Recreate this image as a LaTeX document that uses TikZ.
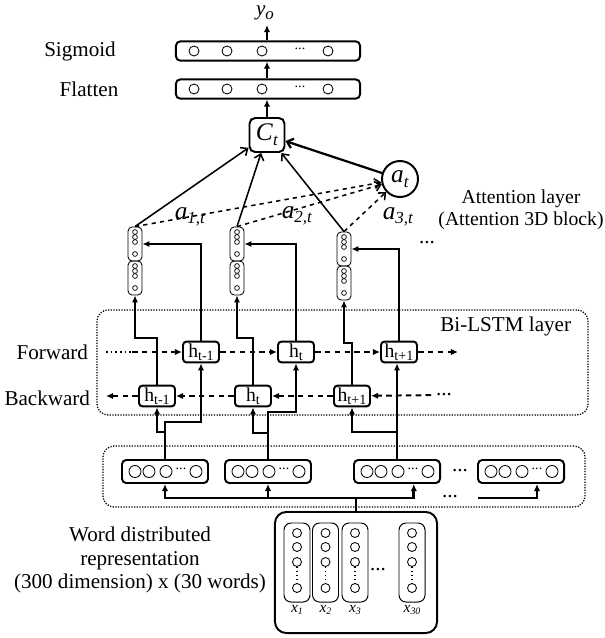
\documentclass[tikz,border=0pt]{standalone}
\usepackage{fontspec}
\setmainfont{Liberation Serif}
\usetikzlibrary{arrows.meta}
\tikzset{>=Latex}
\newcommand{\isub}[3][10]{\textit{#2}\raisebox{-0.4ex}{\fontsize{#1}{#1}\selectfont\textit{#3}}}
\newcommand{\hlab}[1]{h\raisebox{-0.3ex}{\fontsize{10}{10}\selectfont #1}}
\tikzset{outlayer/.style = {draw, rounded corners=3pt, line width=1.4pt, minimum width=4.6cm, minimum height=0.48cm, inner sep=0pt}}
\tikzset{dotbox/.style = {draw, densely dotted, line width=0.9pt, rounded corners=8pt, inner sep=0pt}}
\tikzset{hbox/.style = {draw, rounded corners=2.5pt, line width=1.4pt, minimum width=0.9cm, minimum height=0.52cm, inner sep=1pt, font=\fontsize{14}{14}\selectfont}}
\tikzset{embbox/.style = {draw, rounded corners=3pt, line width=1.4pt, minimum width=2.15cm, minimum height=0.575cm, inner sep=0pt}}
\tikzset{halfvec/.style = {draw, rounded corners=3pt, line width=0.6pt, minimum width=0.35cm, minimum height=0.85cm, inner sep=0pt}}
\tikzset{wordcol/.style = {draw, rounded corners=5pt, line width=0.7pt, minimum width=0.65cm, minimum height=1.975cm, inner sep=0pt}}
\tikzset{wordbox/.style = {draw, rounded corners=8pt, line width=1.4pt, minimum width=4.05cm, minimum height=3.025cm, inner sep=0pt}}
\tikzset{ctbox/.style = {draw, rounded corners=4pt, line width=1.4pt, minimum width=0.875cm, minimum height=0.85cm, inner sep=0pt, font=\fontsize{18}{18}\selectfont}}
\tikzset{atnode/.style = {draw, circle, line width=1.4pt, minimum size=0.9cm, inner sep=0pt, font=\fontsize{18}{18}\selectfont}}
\tikzset{feed/.style = {-{Latex[length=5pt,width=4.5pt]}, line width=1.9pt}}
\tikzset{recur/.style = {-{Latex[length=5pt,width=4.5pt]}, line width=1.4pt, dash pattern=on 4pt off 3pt}}
\tikzset{attn/.style = {-{Straight Barb[length=4pt,width=7pt]}, line width=1.1pt}}

\begin{document}
\begin{tikzpicture}[x=0.025cm, y=-0.025cm, font=\fontsize{15}{17}\selectfont]
    \useasboundingbox (0,0) rectangle (605,638);

    % Output layers
    \node (yo) at (265,13) {\isub[12]{y}{o}};
    \node[outlayer] (sig) at (268,51) {};
    \node[outlayer] (flat) at (268,89) {};
    \node (siglabel) at (80,51) {Sigmoid};
    \node (flatlabel) at (89,89) {Flatten};
    \foreach \x in {194,227,262,328} {
        \draw[line width=0.6pt] (\x,51) circle[radius=0.125cm];
        \draw[line width=0.6pt] (\x,89) circle[radius=0.125cm];
    }
    \node[font=\fontsize{10}{10}\selectfont] (sigdots) at (300,49) {...};
    \node[font=\fontsize{10}{10}\selectfont] (flatdots) at (300,87) {...};

    % Context vector and attention weight
    \node[ctbox] (ct) at (267,135) {\isub[12]{C}{t}};
    \node[atnode] (at) at (400,179) {\isub[12]{a}{t}};

    % Attention vectors (backward half below, forward half above)
    \foreach \i/\x/\y in {1/135/244, 2/237/244, 3/344/249} {
        \node[halfvec] (hi\i) at (\x,\y) {};
        \node[halfvec] (lo\i) at (\x,\y+34) {};
        \foreach \dy in {-12,-7,-2,10} {
            \draw[line width=0.5pt] (\x,\y+\dy) circle[radius=0.06cm];
            \draw[line width=0.5pt] (\x,\y+34+\dy) circle[radius=0.06cm];
        }
    }
    \node[font=\fontsize{18}{18}\selectfont] (w1) at (190,217) {\isub[12]{a}{1,t}};
    \node[font=\fontsize{18}{18}\selectfont] (w2) at (297,216) {\isub[12]{a}{2,t}};
    \node[font=\fontsize{18}{18}\selectfont] (w3) at (398,217) {\isub[12]{a}{3,t}};
    \node (attndots) at (427,243) {...};
    \node[align=center, font=\fontsize{14}{16}\selectfont] (attnlabel) at (521,210) {Attention layer\\(Attention 3D block)};

    % Attention edges
    \foreach \i in {1,2,3} {
        \draw[attn] (hi\i.north) -- (ct);
        \draw[attn, dashed] (hi\i.north) -- (at);
    }
    \draw[attn, line width=1.6pt] (at) -- (ct);
    \draw[feed] (ct.north) -- (flat.south -| ct.north);
    \draw[feed] (flat.north -| ct.north) -- (sig.south -| ct.north);
    \draw[feed] (sig.north -| ct.north) -- (yo.south -| ct.north);

    % Bi-LSTM layer
    \node[dotbox, minimum width=12.275cm, minimum height=2.625cm] (lstm) at (342.5,362.5) {};
    \node[anchor=east] (lstmlabel) at (576,326) {Bi-LSTM layer};
    \node[anchor=east] (fwdlabel) at (93,352) {Forward};
    \node[anchor=east] (bwdlabel) at (95,398) {Backward};
    \node[hbox] (fwd1) at (201,352) {\hlab{t-1}};
    \node[hbox] (fwd2) at (296,352) {\hlab{t}};
    \node[hbox] (fwd3) at (399,352) {\hlab{t+1}};
    \node[hbox] (bwd1) at (157,396) {\hlab{t-1}};
    \node[hbox] (bwd2) at (253,396) {\hlab{t}};
    \node[hbox] (bwd3) at (352,396) {\hlab{t+1}};
    \coordinate (fin) at (106,352);
    \coordinate (fdash) at (132,352);
    \coordinate (fout) at (458,352);
    \coordinate (bout) at (106,396);
    \node (bdots) at (444,395) {...};

    % Recurrent edges
    \draw[line width=1.3pt, dotted] (fin) -- (fdash);
    \draw[recur] (fdash) -- (fwd1);
    \draw[recur] (fwd1) -- (fwd2);
    \draw[recur] (fwd2) -- (fwd3);
    \draw[recur] (fwd3) -- (fout);
    \draw[recur] (bdots) -- (bwd3);
    \draw[recur] (bwd3) -- (bwd2);
    \draw[recur] (bwd2) -- (bwd1);
    \draw[recur] (bwd1) -- (bout);

    % Bi-LSTM to attention vectors
    \draw[feed] (bwd1.north) -- (bwd1.north |- 0,338) -| (lo1.south);
    \draw[feed] (bwd2.north) -- (bwd2.north |- 0,338) -| (lo2.south);
    \draw[feed] (bwd3.north) -- (bwd3.north |- 0,343) -| (lo3.south);
    \draw[feed] (fwd1.north) |- (hi1.east);
    \draw[feed] (fwd2.north) |- (hi2.east);
    \draw[feed] (fwd3.north) |- (hi3.east);

    % Embedding layer
    \node[dotbox, minimum width=12.05cm, minimum height=1.525cm] (emblayer) at (344,476.5) {};
    \node[embbox] (emb1) at (165,471.5) {};
    \node[embbox] (emb2) at (268,471.5) {};
    \node[embbox] (emb3) at (397,471.5) {};
    \node[embbox] (emb4) at (521,471.5) {};
    \foreach \x in {165,268,397,521} {
        \foreach \dx in {-30,-16,1,31}
            \draw[line width=0.6pt] (\x+\dx,471.5) circle[radius=0.15cm];
        \node[font=\fontsize{10}{10}\selectfont] at (\x+16,469) {...};
    }
    \node (embdots) at (460,471) {...};
    \node (feeddots) at (450,497) {...};

    % Embedding to Bi-LSTM
    \draw[feed] (emb1.north) -- (emb1.north |- 0,432) -| (bwd1.south);
    \draw[feed] (emb1.north) -- (emb1.north |- 0,422) -| (fwd1.south);
    \draw[feed] (emb2.north) -- (emb2.north |- 0,433) -| (bwd2.south);
    \draw[feed] (emb2.north) -- (emb2.north |- 0,412) -| (fwd2.south);
    \draw[feed] (emb3.north) -- (emb3.north |- 0,432) -| (bwd3.south);
    \draw[feed] (emb3.north) -- (fwd3.south -| emb3.north);

    % Word distributed representation
    \node[wordbox] (words) at (356,572.5) {};
    \node[align=center] (wordlabel) at (140,560) {Word distributed\\representation\\(300 dimension) x (30 words)};
    \foreach \i/\x/\s in {1/297/1, 2/325.5/2, 3/355/3, 4/412/30} {
        \node[wordcol] (wc\i) at (\x,562.5) {};
        \foreach \y in {533,547,562,588}
            \draw[line width=0.6pt] (\x,\y) circle[radius=0.1125cm];
        \draw[line width=0.8pt, dotted] (\x,567) -- (\x,583);
        \node[font=\fontsize{11}{11}\selectfont] (xl\i) at (\x,610) {\isub[7]{x}{\s}};
    }
    \node (wdots) at (378,570) {...};

    % Words to embedding
    \coordinate (split) at (356,498);
    \coordinate (split4) at (478,498);
    \draw[feed] (words.north) -- (split) -| (emb1.south);
    \draw[feed] (split) -| (emb2.south);
    \draw[feed] (split) -| ([xshift=0.42cm]emb3.south);
    \draw[feed] (split4) -| ([xshift=0.4cm]emb4.south);
\end{tikzpicture}
\end{document}
